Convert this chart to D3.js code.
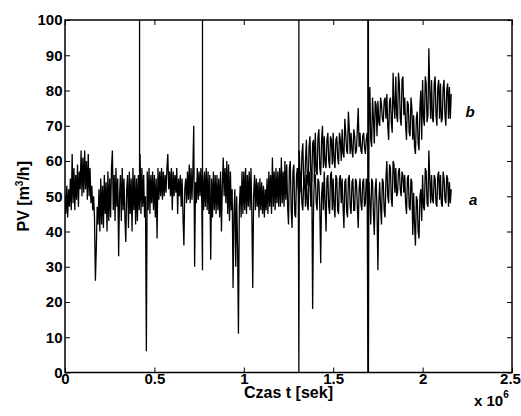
<!DOCTYPE html>
<html>
<head>
<meta charset="utf-8">
<script src="https://cdn.jsdelivr.net/npm/d3@7/dist/d3.min.js"></script>
<style>
  body { margin: 0; background: #fff; }
</style>
</head>
<body>
<div id="chart"></div>
<script>
// time grid step, in units of 1e6 s
const step = 0.005

// series a, one value per step from t = 0 to 2.16e6 s
const seriesA = [
  50, 45, 53, 44, 52, 47, 55, 46, 62, 48,
  58, 46, 56, 49, 59, 47, 57, 52, 63, 50,
  61, 51, 63, 52, 60, 49, 62, 50, 58, 48,
  53, 46, 50, 44, 26, 35, 47, 42, 52, 40,
  55, 42, 53, 41, 56, 45, 54, 40, 57, 43,
  55, 44, 58, 63, 46, 56, 43, 58, 47, 55,
  33, 50, 56, 43, 58, 46, 55, 44, 37, 52,
  56, 41, 57, 45, 55, 40, 58, 46, 56, 42,
  55, 43, 56, 46, 62, 45, 58, 47, 56, 44,
  50, 6, 57, 46, 58, 45, 56, 48, 57, 46,
  56, 44, 55, 38, 58, 49, 57, 50, 58, 49,
  57, 50, 56, 51, 58, 62, 52, 57, 50, 58,
  46, 57, 50, 56, 51, 58, 45, 55, 50, 56,
  47, 55, 44, 36, 52, 55, 48, 57, 49, 59,
  48, 58, 49, 57, 70, 30, 54, 48, 58, 49,
  57, 50, 58, 48, 56, 46, 57, 47, 58, 46,
  57, 45, 56, 32, 55, 44, 57, 46, 56, 45,
  56, 46, 55, 44, 57, 40, 53, 61, 50, 58,
  48, 60, 45, 59, 43, 57, 46, 52, 24, 45,
  52, 30, 50, 36, 11, 47, 53, 44, 57, 45,
  57, 46, 58, 45, 56, 47, 57, 46, 58, 45,
  24, 50, 56, 46, 55, 47, 54, 44, 55, 46,
  54, 45, 53, 44, 52, 46, 55, 45, 57, 47,
  56, 45, 61, 47, 57, 46, 58, 48, 57, 47,
  58, 47, 61, 48, 57, 47, 60, 49, 59, 47,
  42, 58, 60, 46, 41, 57, 59, 45, 44, 56,
  58, 50, 47, 55, 57, 48, 46, 54, 55, 47,
  56, 48, 46, 57, 55, 47, 57, 18, 47, 56,
  56, 48, 46, 55, 54, 47, 31, 50, 54, 46,
  57, 48, 40, 55, 56, 47, 45, 56, 57, 46,
  55, 47, 44, 56, 55, 46, 45, 55, 56, 48,
  55, 47, 41, 54, 55, 46, 44, 55, 56, 47,
  45, 54, 55, 46, 46, 55, 54, 47, 41, 52,
  55, 48, 46, 54, 55, 47, 48, 55, 54, 47,
  54, 48, 42, 55, 54, 45, 39, 52, 55, 46,
  29, 48, 54, 47, 42, 55, 54, 46, 44, 55,
  60, 50, 48, 59, 58, 49, 47, 60, 59, 51,
  58, 50, 51, 57, 58, 52, 50, 57, 56, 51,
  56, 48, 45, 55, 56, 47, 46, 55, 54, 39,
  51, 42, 36, 50, 49, 40, 38, 50, 52, 43,
  56, 47, 46, 58, 57, 48, 47, 63, 55, 48,
  56, 49, 48, 56, 55, 48, 47, 56, 57, 49,
  56, 48, 47, 57, 55, 49, 48, 56, 55, 47,
  54, 48, 52
]

// series b splits away from a at t = 1.30e6 s
const bStartIndex = 260
const seriesB = [
  58, 52, 63, 55, 51, 62, 65, 54, 52, 60,
  66, 55, 53, 64, 67, 56, 54, 65, 66, 55,
  68, 57, 56, 67, 69, 58, 56, 66, 70, 58,
  67, 59, 58, 66, 68, 60, 58, 67, 66, 59,
  68, 60, 58, 66, 67, 61, 59, 68, 66, 60,
  69, 62, 61, 72, 68, 63, 62, 74, 69, 62,
  68, 63, 61, 69, 67, 62, 63, 69, 75, 64,
  68, 63, 62, 67, 68, 64, 62, 66, 68, 63,
  70, 81, 66, 64, 78, 72, 65, 77, 76, 67,
  77, 71, 70, 78, 76, 72, 71, 77, 78, 72,
  79, 70, 66, 77, 78, 71, 68, 85, 76, 72,
  84, 73, 71, 85, 82, 72, 70, 83, 84, 73,
  78, 70, 66, 77, 76, 68, 67, 78, 75, 66,
  73, 64, 62, 72, 74, 65, 63, 75, 80, 66,
  83, 72, 70, 84, 82, 71, 73, 92, 80, 72,
  83, 72, 71, 82, 84, 73, 70, 81, 83, 72,
  82, 71, 72, 81, 83, 73, 70, 80, 82, 72,
  81, 72, 79
]

// full-range glitches (vertical lines)
const spikeTimes = [0.417, 0.769, 1.308, 1.694]
const spikeLows = [50, 29, 0, 0]
const spikeHighs = [100, 100, 100, 100]
const bSpikeTimes = [1.697]
const bSpikeLows = [0]
const bSpikeHighs = [100]

const xTicks = [0, 0.5, 1, 1.5, 2, 2.5]
const yTicks = [0, 10, 20, 30, 40, 50, 60, 70, 80, 90, 100]

const width = 521, height = 416
const margin = { top: 20, right: 9, bottom: 43.5, left: 65 }
const plotW = width - margin.left - margin.right
const plotH = height - margin.top - margin.bottom
const font = "'Liberation Sans', Arial, sans-serif"

const x = d3.scaleLinear().domain([0, 2.5]).range([0, plotW])
const y = d3.scaleLinear().domain([0, 100]).range([plotH, 0])

const svg = d3.select("#chart").append("svg")
  .attr("width", width)
  .attr("height", height)
  .attr("font-family", font)
  .attr("font-weight", "bold")

const g = svg.append("g").attr("transform", `translate(${margin.left},${margin.top})`)

// merge the regular samples with glitch points
const withSpikes = (pts, times, lows, highs) => {
  times.forEach((t, i) => {
    pts.push([t, lows[i]], [t, highs[i]], [t, lows[i]])
  })
  return pts.sort((p, q) => p[0] - q[0])
}

const ptsA = withSpikes(seriesA.map((v, i) => [i * step, v]), spikeTimes, spikeLows, spikeHighs)
const ptsB = withSpikes(seriesB.map((v, i) => [(bStartIndex + i) * step, v]), bSpikeTimes, bSpikeLows, bSpikeHighs)

g.append("clipPath").attr("id", "clip")
  .append("rect").attr("width", plotW).attr("height", plotH)

const line = d3.line().x(d => x(d[0])).y(d => y(d[1]))

const lines = g.append("g").attr("clip-path", "url(#clip)")
lines.append("path").datum(ptsA)
  .attr("d", line).attr("fill", "none").attr("stroke", "#000").attr("stroke-width", 1.3)
lines.append("path").datum(ptsB)
  .attr("d", line).attr("fill", "none").attr("stroke", "#000").attr("stroke-width", 1.3)

// axes, ticks pointing inward like MATLAB
const fmt = d3.format("~g")
const axisStyle = sel => {
  sel.attr("font-family", font).attr("font-weight", "bold").attr("font-size", 15)
  sel.select(".domain").remove()
  sel.selectAll(".tick line").attr("stroke", "#000").attr("stroke-width", 1)
  sel.selectAll(".tick text").attr("fill", "#000")
}

g.append("g").attr("transform", `translate(0,${plotH})`)
  .call(d3.axisBottom(x).tickValues(xTicks).tickFormat(fmt).tickSizeInner(-5).tickSizeOuter(0).tickPadding(1))
  .call(axisStyle)
  .call(a => a.selectAll(".tick text").filter(d => d === 2.5).attr("dx", -2))
g.append("g")
  .call(d3.axisTop(x).tickValues(xTicks).tickFormat("").tickSizeInner(-5).tickSizeOuter(0))
  .call(axisStyle)
g.append("g")
  .call(d3.axisLeft(y).tickValues(yTicks).tickFormat(fmt).tickSizeInner(-5).tickSizeOuter(0).tickPadding(2.5))
  .call(axisStyle)
g.append("g").attr("transform", `translate(${plotW},0)`)
  .call(d3.axisRight(y).tickValues(yTicks).tickFormat("").tickSizeInner(-5).tickSizeOuter(0))
  .call(axisStyle)

g.append("rect")
  .attr("width", plotW).attr("height", plotH)
  .attr("fill", "none").attr("stroke", "#000").attr("stroke-width", 1.5)

// labels
svg.append("text")
  .attr("x", margin.left + plotW / 2).attr("y", 398)
  .attr("text-anchor", "middle").attr("font-size", 16)
  .text("Czas t [sek]")

const sci = svg.append("text").attr("x", 474).attr("y", 406).attr("font-size", 15)
sci.append("tspan").text("x 10")
sci.append("tspan").attr("dy", -8).attr("font-size", 10).text("6")

const yl = svg.append("text")
  .attr("transform", `translate(29,${margin.top + plotH / 2}) rotate(-90)`)
  .attr("text-anchor", "middle").attr("font-size", 16)
yl.append("tspan").text("PV [m")
yl.append("tspan").attr("dy", -6).attr("font-size", 10).text("3")
yl.append("tspan").attr("dy", 6).text("/h]")

g.append("text").attr("x", x(2.24)).attr("y", y(72.5))
  .attr("font-size", 15).attr("font-style", "italic").text("b")
g.append("text").attr("x", x(2.26)).attr("y", y(47.5))
  .attr("font-size", 15).attr("font-style", "italic").text("a")
</script>
</body>
</html>
